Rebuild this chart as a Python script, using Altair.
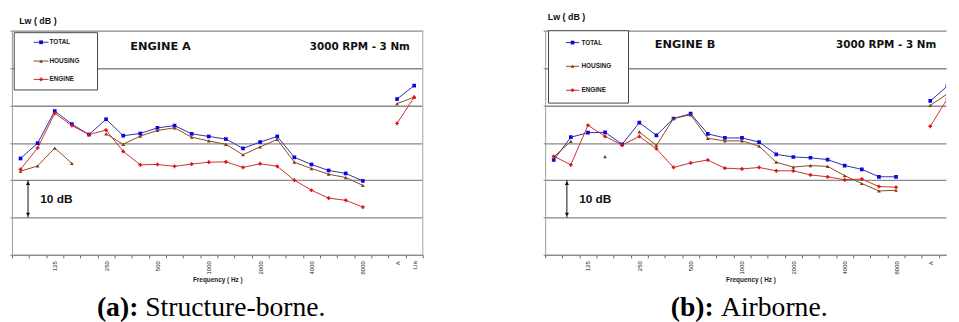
import altair as alt
import pandas as pd

# 1/3-octave bands (index 0..23) plus overall A / Lin
bands = ["80", "100", "125", "160", "200", "250", "315", "400", "500", "630", "800",
         "1000", "1250", "1600", "2000", "2500", "3150", "4000", "5000", "6300", "8000",
         "10000", "A", "Lin"]
shown_labels = ["125", "250", "500", "1000", "2000", "4000", "8000", "A", "Lin"]
series_names = ["TOTAL", "HOUSING", "ENGINE"]

# Engine A - structure-borne (relative dB, 10 dB per gridline)
total_a = [25.8, 29.9, 38.5, 35.0, 32.2, 36.3, 31.9, 32.5, 34.0, 34.6, 32.4, 31.7, 31.0,
           28.5, 30.2, 31.7, 26.1, 24.2, 22.6, 21.8, 19.8, None, 41.7, 45.3]
housing_a = [22.4, 23.8, 28.6, 24.5, None, 32.4, 29.6, 31.8, 33.3, 34.0, 31.5, 30.5, 29.6,
             26.8, 28.9, 30.9, 24.8, 23.1, 21.6, 20.7, 18.6, None, 40.5, 42.2]
engine_a = [22.9, 28.6, 37.9, 34.6, 32.2, 33.4, 27.7, 24.1, 24.2, 23.7, 24.3, 24.8, 24.9,
            23.4, 24.4, 23.7, 20.0, 17.3, 15.2, 14.6, 12.8, None, 35.2, 42.2]

# Engine B - airborne
total_b = [25.4, 31.5, 32.7, 32.8, 29.6, 35.4, 32.0, 36.5, 37.8, 32.4, 31.3, 31.3, 30.2,
           26.9, 26.2, 26.0, 25.5, 23.9, 22.9, 20.9, 20.9, None, 41.2, 45.2]
housing_b = [26.2, 30.4, None, 26.3, None, 32.9, 29.3, 36.5, 37.5, 31.2, 30.5, 30.5, 29.1,
             24.8, 23.5, 23.9, 23.7, 21.2, 19.1, 17.1, 17.3, None, 40.0, 43.1]
engine_b = [26.4, 24.1, 34.7, 31.7, 29.4, 31.7, 28.4, 23.4, 24.6, 25.4, 23.2, 23.0, 23.4,
            22.5, 22.5, 21.4, 20.9, 20.1, 20.3, 18.3, 18.1, None, 34.4, 41.8]

line_colors = ["#3030a8", "#8a4a1c", "#cc3030"]
marker_colors = ["#0808e0", "#7a3a10", "#e01010"]
marker_shapes = ["square", "triangle-up", "cross"]

FONT = "Liberation Sans"
H = 227
BW = 416 / 24.0


def long_df(series_vals):
    rows = []
    for name, vals in zip(series_names, series_vals):
        seg = 0
        prev = None
        for i, v in enumerate(vals):
            if v is None:
                prev = None
                continue
            if prev is None:
                seg += 1
            rows.append(dict(series=name, band=bands[i], idx=i, value=v, seg=f"{name}{seg}"))
            prev = v
    return pd.DataFrame(rows)


def text_layer(txt, x, y, size, weight="bold", align="left", baseline="middle", font=FONT, color="#111"):
    return alt.Chart(pd.DataFrame({"t": [txt]})).mark_text(
        align=align, baseline=baseline, font=font, fontSize=size, fontWeight=weight, color=color
    ).encode(x=alt.value(x), y=alt.value(y), text="t:N")


def panel(vals, w, xmax, max_label_idx, clip, lay):
    df = long_df(vals)
    label_arr = [b if (b in shown_labels and i <= max_label_idx) else "" for i, b in enumerate(bands)]
    expr = "[" + ",".join("'%s'" % s for s in label_arr) + "][datum.value] || ''"
    xscale = alt.Scale(domain=[0, xmax], nice=False, zero=False)
    yscale = alt.Scale(domain=[0, 60], nice=False, zero=False)
    nvals = int(xmax) + 1
    x_axis = alt.Axis(values=list(range(0, nvals)), labelExpr=expr, labelAngle=-90,
                      labelOffset=BW / 2, labelFlush=False, labelOverlap=False, labelBound=False,
                      labelFont=FONT, labelFontSize=6, labelColor="#222", labelPadding=3,
                      tickSize=3, tickColor="#666", domainColor="#8a8a8a", domainWidth=1.3,
                      grid=False, title="Frequency ( Hz )", titleFont=FONT, titleFontSize=6.5,
                      titleFontWeight="bold", titleColor="#222", titleX=208, titleY=22,
                      titleBaseline="top")
    y_axis = alt.Axis(values=[0, 10, 20, 30, 40, 50, 60], labels=False, tickSize=2,
                      tickColor="#777", domainColor="#9a9a9a", grid=True, gridColor="#8a8a8a",
                      gridWidth=1.3, title=None)
    base = alt.Chart(df).transform_calculate(pos="datum.idx + 0.5")
    x_enc = alt.X("pos:Q", scale=xscale, axis=x_axis)
    y_enc = alt.Y("value:Q", scale=yscale, axis=y_axis)
    lines = base.mark_line(strokeWidth=1, clip=clip).encode(
        x=x_enc, y=y_enc,
        stroke=alt.Stroke("series:N", scale=alt.Scale(domain=series_names, range=line_colors), legend=None),
        detail="seg:N", order="idx:Q")
    points = base.mark_point(filled=True, size=14, opacity=1, strokeWidth=0, clip=clip).encode(
        x=x_enc, y=y_enc,
        fill=alt.Fill("series:N", scale=alt.Scale(domain=series_names, range=marker_colors), legend=None),
        shape=alt.Shape("series:N", scale=alt.Scale(domain=series_names, range=marker_shapes), legend=None))

    layers = [lines, points]
    if lay.get("right_border"):
        layers.append(alt.Chart(pd.DataFrame({"a": [0]})).mark_rule(color="#b8b8b8", strokeWidth=1.3).encode(
            x=alt.value(w), y=alt.value(0), y2=alt.value(H)))
    # legend box
    bx0, bx1, by0, by1 = lay["box"]
    layers.append(alt.Chart(pd.DataFrame({"a": [0]})).mark_rect(fill="white", stroke="#444", strokeWidth=1).encode(
        x=alt.value(bx0), x2=alt.value(bx1), y=alt.value(by0), y2=alt.value(by1)))
    lx0, lx1, tx = lay["legend_x"]
    for i, name in enumerate(series_names):
        ly = lay["legend_y"][i]
        d = pd.DataFrame({"series": [name]})
        layers.append(alt.Chart(d).mark_rule(color=line_colors[i], strokeWidth=1).encode(
            x=alt.value(lx0), x2=alt.value(lx1), y=alt.value(ly)))
        layers.append(alt.Chart(d).mark_point(filled=True, size=14, strokeWidth=0, fill=marker_colors[i],
                                              shape=marker_shapes[i], opacity=1).encode(
            x=alt.value((lx0 + lx1) / 2), y=alt.value(ly)))
        layers.append(alt.Chart(d).mark_text(align="left", baseline="middle", font=FONT, fontSize=6.5,
                                             fontWeight="bold", color="#222").encode(
            x=alt.value(tx), y=alt.value(ly), text="series:N"))
    # texts
    layers.append(text_layer("Lw ( dB )", lay["lw"][0], lay["lw"][1], 9))
    layers.append(text_layer(lay["engine"], lay["eng_xy"][0], lay["eng_xy"][1], 11.5, font="DejaVu Sans"))
    layers.append(text_layer("3000 RPM - 3 Nm", lay["rpm_xy"][0], lay["rpm_xy"][1], 10.5, align="right",
                             font="DejaVu Sans"))
    layers.append(text_layer("10 dB", lay["db_xy"][0], lay["db_xy"][1], 12))
    # 10 dB arrow
    ax = lay["arrow_x"]
    arr = pd.DataFrame({"hi": [20], "lo": [10]})
    layers.append(alt.Chart(arr).mark_rule(color="#111", strokeWidth=1).encode(
        x=alt.value(ax), y=alt.Y("hi:Q", scale=yscale, axis=y_axis), y2="lo:Q"))
    layers.append(alt.Chart(arr).mark_point(shape="triangle-up", filled=True, size=18, color="#111",
                                            opacity=1, yOffset=3).encode(
        x=alt.value(ax), y=alt.Y("hi:Q", scale=yscale, axis=y_axis)))
    layers.append(alt.Chart(arr).mark_point(shape="triangle-down", filled=True, size=18, color="#111",
                                            opacity=1, yOffset=-3).encode(
        x=alt.value(ax), y=alt.Y("lo:Q", scale=yscale, axis=y_axis)))
    # caption
    cap_b, cap_r, cx_b, cx_r, cy = lay["caption"]
    layers.append(text_layer(cap_b, cx_b, cy, 28, weight="bold", align="right", baseline="alphabetic",
                             font="Liberation Serif", color="#000"))
    layers.append(text_layer(cap_r, cx_r, cy, 28, weight="normal", align="left", baseline="alphabetic",
                             font="Liberation Serif", color="#000"))
    return alt.layer(*layers).properties(width=w, height=H)


lay_a = dict(right_border=True, box=(2.3, 86.7, 2, 60), legend_x=(22, 37, 38),
             legend_y=(11.7, 30.7, 49.3), lw=(7.3, -9.7), engine="ENGINE A", eng_xy=(119.7, 17),
             rpm_xy=(403, 17), db_xy=(28.7, 170.3), arrow_x=16.3,
             caption=("(a):", " Structure-borne.", 128, 135, 289))
lay_b = dict(right_border=False, box=(3.4, 84.4, 0, 73.3), legend_x=(21, 34.4, 36.7),
             legend_y=(12, 36, 60.3), lw=(2.7, -13.7), engine="ENGINE B", eng_xy=(111, 14),
             rpm_xy=(396, 14), db_xy=(34.4, 170.3), arrow_x=22,
             caption=("(b):", " Airborne.", 170.7, 178, 289))

WB = 406
panel_a = panel([total_a, housing_a, engine_a], 416, 24, 23, False, lay_a)
panel_b = panel([total_b, housing_b, engine_b], WB, WB / BW, 22, True, lay_b)

chart = alt.hconcat(panel_a, panel_b, spacing=124, bounds="flush").properties(
    padding={"left": 1, "top": 3, "right": 0, "bottom": 0}
).configure_view(stroke=None)

chart.save("out.html", embed_options={"renderer": "svg", "actions": False})
